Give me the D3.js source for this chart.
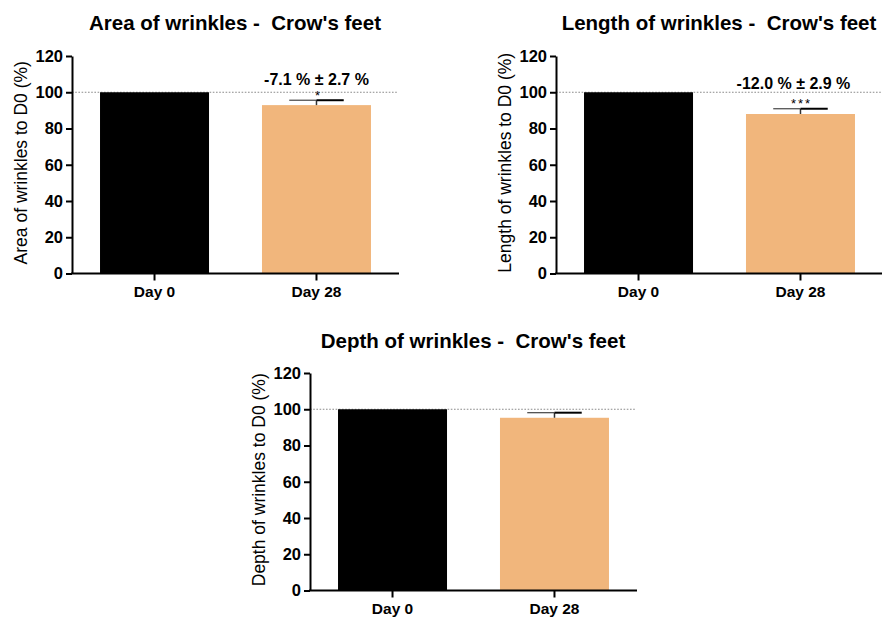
<!DOCTYPE html>
<html>
<head>
<meta charset="utf-8">
<script src="https://cdn.jsdelivr.net/npm/d3@7"></script>
<style>
  html, body { margin: 0; padding: 0; background: #fff; }
  svg { display: block; }
  text { font-family: "Liberation Sans", Arial, Helvetica, sans-serif; fill: #000; }
  .title { white-space: pre; }
</style>
</head>
<body>
<script>
// Categories shared by all three panels
const categories = ["Day 0", "Day 28"];
const yTicks = [0, 20, 40, 60, 80, 100, 120];
const baselineRef = 100;

// Area of wrinkles (% of D0): mean and SEM per timepoint
const areaValues = [100, 92.9];
const areaErrors = [0, 2.7];
const areaLabel = "-7.1 % \u00b1 2.7 %";
const areaStars = "*";

// Length of wrinkles (% of D0)
const lengthValues = [100, 88.0];
const lengthErrors = [0, 2.9];
const lengthLabel = "-12.0 % \u00b1 2.9 %";
const lengthStars = "***";

// Depth of wrinkles (% of D0)
const depthValues = [100, 95.3];
const depthErrors = [0, 2.8];

const barColors = ["#000000", "#F1B67C"];

const W = 882, H = 617;
const svg = d3.select("body").append("svg").attr("width", W).attr("height", H);

const panels = [
  { title: "Area of wrinkles -  Crow's feet", yTitle: "Area of wrinkles to D0 (%)",
    values: areaValues, errors: areaErrors, label: areaLabel, stars: areaStars,
    x0: 72, top: 56, titleX: 235, titleY: 30, yTitleX: 27, labelY: 85, labelDx: 0, starY: 100 },
  { title: "Length of wrinkles -  Crow's feet", yTitle: "Length of wrinkles to D0 (%)",
    values: lengthValues, errors: lengthErrors, label: lengthLabel, stars: lengthStars,
    x0: 556, top: 56, titleX: 719, titleY: 30, yTitleX: 511, labelY: 89, labelDx: -7, starY: 108 },
  { title: "Depth of wrinkles -  Crow's feet", yTitle: "Depth of wrinkles to D0 (%)",
    values: depthValues, errors: depthErrors, label: null, stars: null,
    x0: 310, top: 373, titleX: 473, titleY: 348, yTitleX: 265 }
];

const plotW = 327, plotH = 217.5;

panels.forEach(p => {
  const g = svg.append("g").attr("transform", `translate(${p.x0},${p.top})`);

  const x = d3.scaleBand().domain(categories).range([0, plotW])
    .paddingInner(0.327).paddingOuter(0.173);
  const y = d3.scaleLinear().domain([0, 120]).range([plotH, 0]);

  // reference line at 100 %
  g.append("line")
    .attr("x1", 0).attr("x2", plotW - 1)
    .attr("y1", y(baselineRef)).attr("y2", y(baselineRef))
    .attr("stroke", "#8a8a8a").attr("stroke-width", 1.2)
    .attr("stroke-dasharray", "1.6,1.6");

  // bars
  g.selectAll("rect.bar").data(categories).join("rect")
    .attr("class", "bar")
    .attr("x", d => x(d))
    .attr("width", x.bandwidth())
    .attr("y", (d, i) => y(p.values[i]))
    .attr("height", (d, i) => y(0) - y(p.values[i]))
    .attr("fill", (d, i) => barColors[i]);

  // error bars (upper whisker only)
  categories.forEach((c, i) => {
    if (!p.errors[i]) return;
    const cx = x(c) + x.bandwidth() / 2;
    const half = x.bandwidth() / 4;
    const yTop = y(p.values[i] + p.errors[i]);
    g.append("line").attr("x1", cx).attr("x2", cx)
      .attr("y1", y(p.values[i])).attr("y2", yTop)
      .attr("stroke", "#333").attr("stroke-width", 1.5);
    g.append("line").attr("x1", cx - half).attr("x2", cx)
      .attr("y1", yTop).attr("y2", yTop)
      .attr("stroke", "#444").attr("stroke-width", 1.2);
    g.append("line").attr("x1", cx).attr("x2", cx + half)
      .attr("y1", yTop).attr("y2", yTop)
      .attr("stroke", "#000").attr("stroke-width", 2);
  });

  // change label and significance stars above Day 28
  const cx28 = x(categories[1]) + x.bandwidth() / 2;
  if (p.label) {
    svg.append("text")
      .attr("x", p.x0 + cx28 + p.labelDx).attr("y", p.labelY)
      .attr("text-anchor", "middle")
      .attr("font-size", 16).attr("font-weight", "bold")
      .text(p.label);
  }
  if (p.stars) {
    svg.append("text")
      .attr("x", p.x0 + cx28 + 1).attr("y", p.starY)
      .attr("text-anchor", "middle")
      .attr("font-size", 13).attr("letter-spacing", p.stars.length > 1 ? 2 : 0)
      .attr("fill", "#222")
      .text(p.stars);
  }

  // y axis
  const yAxis = g.append("g")
    .call(d3.axisLeft(y).tickValues(yTicks).tickSize(6).tickPadding(3).tickSizeOuter(0));
  yAxis.select(".domain").attr("stroke", "#000").attr("stroke-width", 2);
  yAxis.selectAll(".tick line").attr("stroke", "#000").attr("stroke-width", 2);
  yAxis.selectAll(".tick text")
    .attr("font-size", 16.5).attr("font-weight", "bold")
    .attr("font-family", "Liberation Sans, Arial, sans-serif").attr("fill", "#000");

  // x axis
  const xAxis = g.append("g").attr("transform", `translate(0,${plotH})`)
    .call(d3.axisBottom(x).tickSize(7).tickPadding(5).tickSizeOuter(0));
  xAxis.select(".domain").attr("stroke", "#000").attr("stroke-width", 2)
    .attr("d", `M-1,0H${plotW}`);
  xAxis.selectAll(".tick line").attr("stroke", "#000").attr("stroke-width", 2);
  xAxis.selectAll(".tick text")
    .attr("font-size", 15.5).attr("font-weight", "bold")
    .attr("font-family", "Liberation Sans, Arial, sans-serif").attr("fill", "#000");

  // titles (double space kept as in the original heading)
  svg.append("text")
    .attr("class", "title")
    .attr("x", p.titleX).attr("y", p.titleY)
    .attr("text-anchor", "middle")
    .attr("font-size", 20.5).attr("font-weight", "bold")
    .text(p.title);

  svg.append("text")
    .attr("transform", `translate(${p.yTitleX},${p.top + plotH / 2 - 2}) rotate(-90)`)
    .attr("text-anchor", "middle")
    .attr("font-size", 17.5)
    .text(p.yTitle);
});
</script>
</body>
</html>
